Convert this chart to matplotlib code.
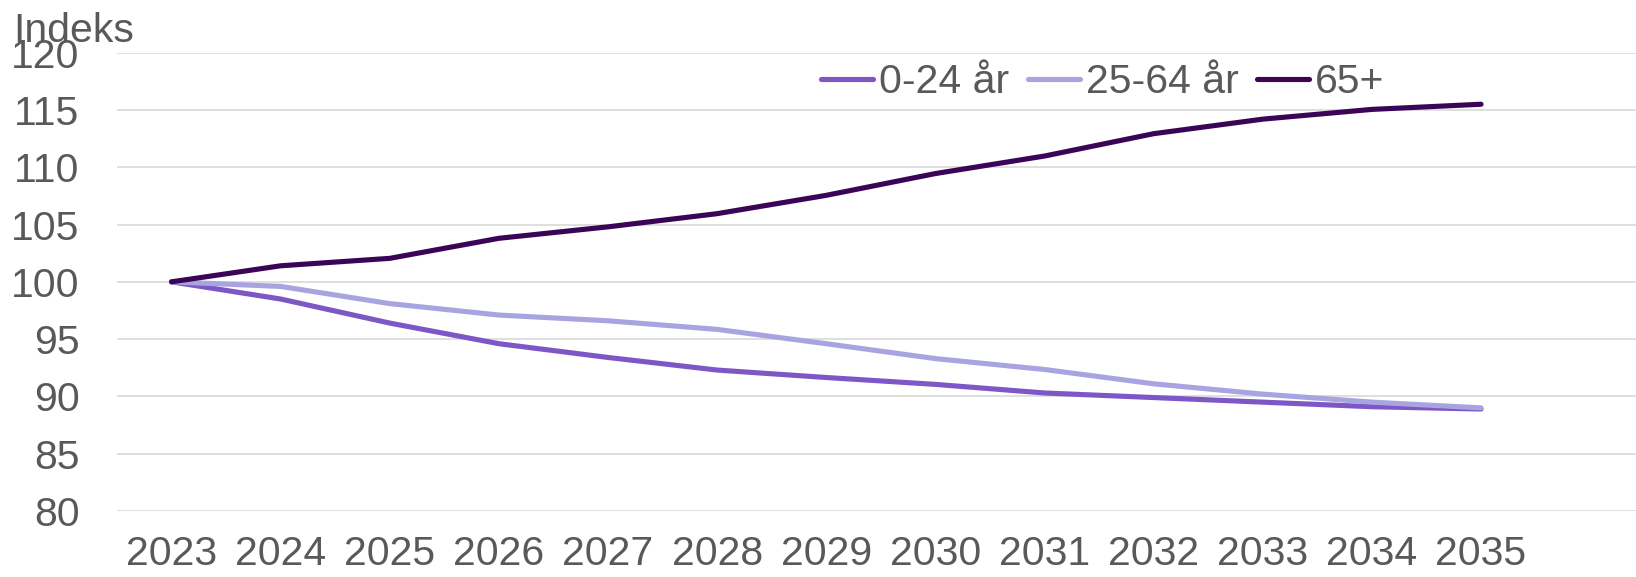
import matplotlib
matplotlib.use("Agg")
import matplotlib.pyplot as plt

# befolkningsindeks, 2023 = 100
aar = [2023, 2024, 2025, 2026, 2027, 2028, 2029, 2030, 2031, 2032, 2033, 2034, 2035]
unge = [100, 98.5, 96.4, 94.6, 93.4, 92.3, 91.65, 91.05, 90.3, 89.9, 89.5, 89.1, 88.9]
voksne = [100, 99.6, 98.1, 97.1, 96.6, 95.85, 94.6, 93.3, 92.35, 91.1, 90.2, 89.5, 89.0]
eldre = [100, 101.4, 102.05, 103.8, 104.8, 105.95, 107.55, 109.45, 110.98, 112.93, 114.2, 115.05, 115.5]
serier = ["0-24 år", "25-64 år", "65+"]
farger = ["#7E57C6", "#A8A4E0", "#3A0557"]
yticks = [80, 85, 90, 95, 100, 105, 110, 115, 120]

plt.rcParams["font.family"] = ["Liberation Sans", "DejaVu Sans"]
tekstfarge = "#595959"
fs = 29.5

fig = plt.figure(figsize=(16.36, 5.77), dpi=100)
ax = fig.add_axes([0.0715, 0.1144, 0.9285, 0.7943])

for verdier, navn, farge in zip([unge, voksne, eldre], serier, farger):
    ax.plot(aar, verdier, color=farge, lw=3.7, label=navn,
            solid_capstyle="round", solid_joinstyle="round")

ax.set_ylim(80, 120)
ax.set_yticks(yticks)
ax.set_xlim(2022.5, 2036.42)
ax.set_xticks(aar)
ax.set_xticklabels([str(a) for a in aar])
ax.grid(axis="y", color="#D9D9D9", lw=1.2)
ax.set_axisbelow(True)
for s in ax.spines.values():
    s.set_visible(False)
ax.tick_params(axis="both", length=0, labelsize=fs, labelcolor=tekstfarge)
ax.tick_params(axis="y", pad=27)
ax.tick_params(axis="x", pad=17)

fig.text(0.008, 1 - 41.7 / 577, "Indeks", fontsize=fs, color=tekstfarge,
         ha="left", va="baseline")

leg = fig.legend(loc="center", bbox_to_anchor=(0.674, 1 - 82 / 577), ncol=3,
                 frameon=False, fontsize=fs, handlelength=1.27,
                 handletextpad=0.15, columnspacing=0.45, borderpad=0)
for t in leg.get_texts():
    t.set_color(tekstfarge)

fig.savefig("out.png", dpi=100)
